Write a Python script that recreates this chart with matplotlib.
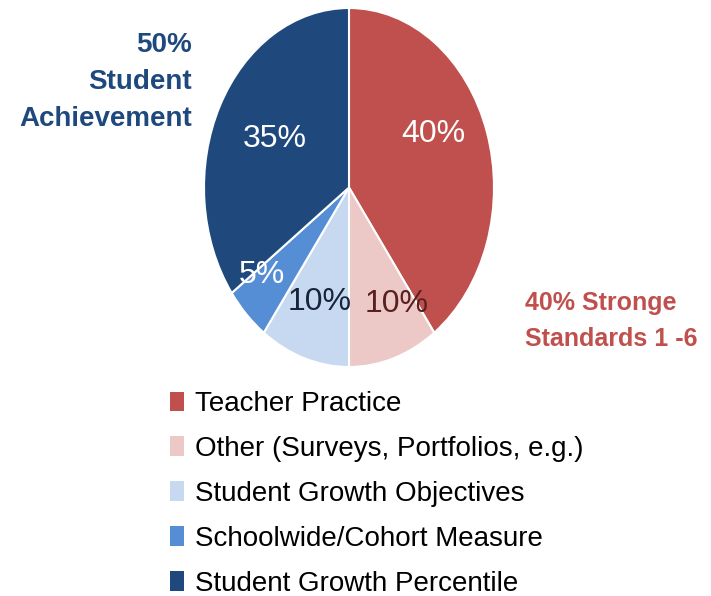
import matplotlib
matplotlib.use('Agg')
import matplotlib.pyplot as plt
from matplotlib.patches import Patch

plt.rcParams['font.family'] = ['Liberation Sans', 'DejaVu Sans']

categories = ['Teacher Practice', 'Other (Surveys, Portfolios, e.g.)',
              'Student Growth Objectives', 'Schoolwide/Cohort Measure',
              'Student Growth Percentile']
values = [40, 10, 10, 5, 35]
labels = ['40%', '10%', '10%', '5%', '35%']
colors = ['#c0504d', '#ecc8c7', '#c6d9f1', '#558ed5', '#1f497d']
label_colors = ['white', '#5a1f1f', '#17243a', 'white', 'white']

fig = plt.figure(figsize=(7.11, 5.96), dpi=100)
# pie is stretched vertically in the original, so use a non-square axes
ax = fig.add_axes([204/711, 1 - 367/596, 290/711, 359/596])

wedges, texts = ax.pie(values, colors=colors, startangle=90, counterclock=False,
                       wedgeprops=dict(edgecolor='white', linewidth=1.5))
ax.set_xlim(-1, 1)
ax.set_ylim(-1, 1)
ax.set_aspect('auto')
ax.axis('off')

# label positions inside the slices (axes data coords)
label_pos = [(0.58, 0.3), (0.33, -0.65), (-0.2, -0.64), (-0.6, -0.49), (-0.51, 0.27)]
for (x, y), lab, c in zip(label_pos, labels, label_colors):
    ax.text(x, y, lab, color=c, fontsize=23, ha='center', va='center')

fig.text(192/711, 1 - 82/596, '50%\nStudent\nAchievement', color='#1f497d',
         fontsize=20, fontweight='bold', ha='right', va='center', linespacing=1.55)
fig.text(525/711, 1 - 321/596, '40% Stronge\nStandards 1 -6', color='#c0504d',
         fontsize=18, fontweight='bold', ha='left', va='center', linespacing=1.6)

handles = [Patch(facecolor=c, edgecolor='none') for c in colors]
fig.legend(handles, categories, loc='upper left', bbox_to_anchor=(159/711, 1 - 380/596),
           frameon=False, fontsize=20, handlelength=0.5, handleheight=0.72,
           handletextpad=0.4, labelspacing=0.68, borderaxespad=0)

fig.savefig('out.png', dpi=100)
